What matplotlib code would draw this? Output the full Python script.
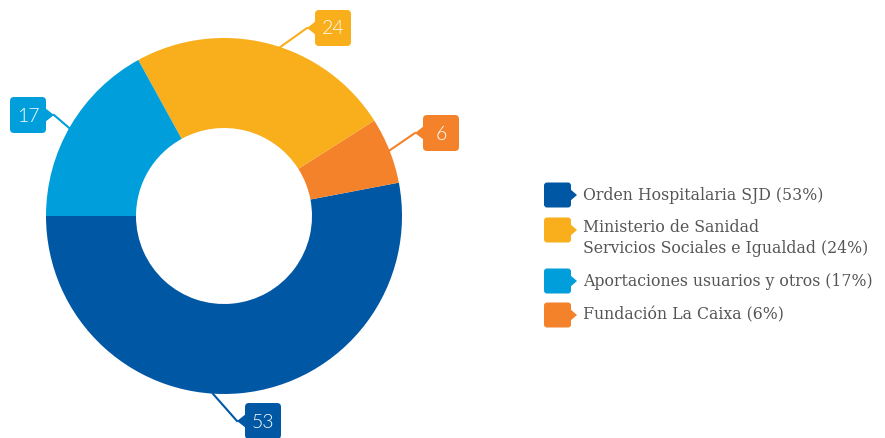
import matplotlib
matplotlib.use("Agg")
import matplotlib.pyplot as plt
import numpy as np
from matplotlib.patches import FancyBboxPatch, Polygon

# data
categories = [
    "Orden Hospitalaria SJD (53%)",
    "Fundación La Caixa (6%)",
    "Ministerio de Sanidad\nServicios Sociales e Igualdad (24%)",
    "Aportaciones usuarios y otros (17%)",
]
values = [53, 6, 24, 17]
colors = ["#0057A4", "#F3822B", "#F9AE1B", "#009EDB"]
legend_order = [0, 2, 3, 1]

W, H = 885, 438
fig = plt.figure(figsize=(W / 100, H / 100), dpi=100)
ax = fig.add_axes([0, 0, 1, 1])
ax.set_xlim(0, W)
ax.set_ylim(0, H)
ax.set_aspect("equal")
ax.axis("off")

cx, cy, r_out, r_in = 224, H - 216, 178, 88
wedges, _ = ax.pie(values, colors=colors, startangle=180, counterclock=True,
                   center=(cx, cy), radius=r_out,
                   wedgeprops=dict(width=r_out - r_in, linewidth=0))
ax.set_xlim(0, W)
ax.set_ylim(0, H)

# value boxes: (box center in image px, pointer side, leader angle tweak)
box_layout = [((263, 421), "left", -9), ((441, 133), "left", 0),
              ((333, 28), "left", -4), ((28, 115), "right", 1)]
bw, bh = 36, 36
for w, v, c, (pos, side, tweak) in zip(wedges, values, colors, box_layout):
    ang = np.deg2rad((w.theta1 + w.theta2) / 2 + tweak)
    sx, sy = cx + r_out * np.cos(ang), cy + r_out * np.sin(ang)
    bx, by = pos[0], H - pos[1]
    x0, y0 = bx - bw / 2, by - bh / 2
    ax.add_patch(FancyBboxPatch((x0, y0), bw, bh,
                                boxstyle="round,pad=0,rounding_size=4",
                                fc=c, ec="none", zorder=4))
    if side == "left":
        tip = (x0 - 8, by)
        tri = [(x0 + 1, by + 7), tip, (x0 + 1, by - 7)]
    else:
        tip = (x0 + bw + 8, by)
        tri = [(x0 + bw - 1, by + 7), tip, (x0 + bw - 1, by - 7)]
    ax.add_patch(Polygon(tri, closed=True, fc=c, ec="none", zorder=4))
    ax.plot([sx, tip[0]], [sy, tip[1]], color=c, lw=1.5, zorder=3)
    ax.text(bx, by - 1, str(v), color="white", fontsize=14, family="Lato",
            fontweight=300, ha="center", va="center", zorder=10)

# legend
leg_rows = [195, 230, 281, 315]
sq_x, sq_w, sq_h = 544, 27, 25
for row, i in zip(leg_rows, legend_order):
    yc = H - row
    c = colors[i]
    ax.add_patch(FancyBboxPatch((sq_x, yc - sq_h / 2), sq_w, sq_h,
                                boxstyle="round,pad=0,rounding_size=3",
                                fc=c, ec="none"))
    ax.add_patch(Polygon([(sq_x + sq_w - 1, yc + 6), (sq_x + sq_w + 6, yc),
                          (sq_x + sq_w - 1, yc - 6)], closed=True, fc=c, ec="none"))
    label = categories[i]
    ty = H - 238 if "\n" in label else yc
    ax.text(583, ty, label, color="#555555", fontsize=11.3, family="DejaVu Serif",
            ha="left", va="center", linespacing=1.35)

fig.savefig("out.png", dpi=100)
plt.close()
